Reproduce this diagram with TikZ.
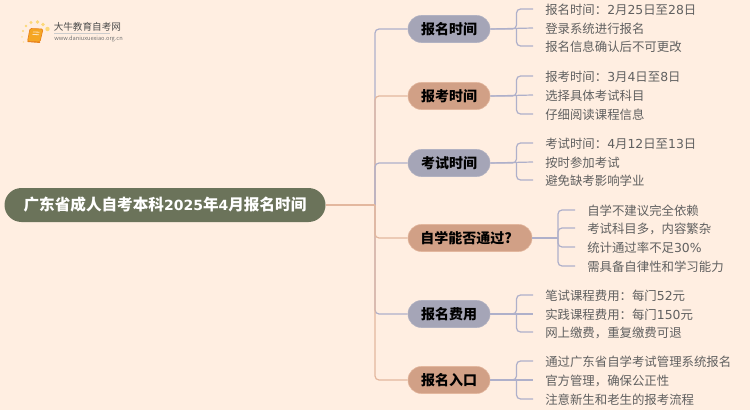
\documentclass[tikz,border=0pt]{standalone}
\usepackage{fontspec}
\setmainfont{Noto Sans CJK SC}
\newfontfamily\digitfont{DejaVu Sans}
\newcommand{\dg}[1]{{\digitfont #1}}
\definecolor{paper}{HTML}{FFEEE1}
\definecolor{rootfill}{HTML}{6B735A}
\definecolor{bluefill}{HTML}{A5A5B7}
\definecolor{orangefill}{HTML}{D1A086}
\definecolor{blueline}{HTML}{AFB0CA}
\definecolor{orangeline}{HTML}{E3B79E}
\definecolor{leaftext}{HTML}{606060}
\definecolor{bookfill}{HTML}{F5A623}
\definecolor{bookedge}{HTML}{E8811A}
\definecolor{dotfill}{HTML}{FCD878}
\tikzset{
  rootnode/.style={rounded corners=12.75pt, fill=rootfill, text=white, font=\fontsize{11.7}{14}\selectfont\bfseries, minimum width=240.75pt, minimum height=25.5pt, inner sep=0pt},
  bluenode/.style={rounded corners=10pt, fill=bluefill, draw=bluefill!85!white, text=black, font=\fontsize{10.5}{13}\selectfont\bfseries, minimum width=61.5pt, minimum height=20.25pt, inner sep=0pt},
  orangenode/.style={bluenode, fill=orangefill, draw=orangeline},
  leaf/.style={anchor=west, text=leaftext, font=\fontsize{9.3}{11}\selectfont, inner xsep=9pt, inner ysep=0pt, text height=8.5pt, text depth=0pt},
  blueedge/.style={draw=blueline, line width=0.9pt, rounded corners=3pt},
  orangeedge/.style={draw=orangeline, line width=0.9pt, rounded corners=3pt}
}
\begin{document}
\begin{tikzpicture}[x=0.75pt, y=-0.75pt]
  \useasboundingbox[fill=paper] (0,0) rectangle (750,410);

  % logo
  \fill[dotfill] (23,31) circle (1.2) (26,26) circle (1.4) (31,22.5) circle (1.7) (37.5,22) circle (1.9) (43,24.5) circle (1.8) (47.5,29) circle (2.2);
  \fill[dotfill!60!paper] (22,37) circle (1) (23.5,42) circle (0.8);
  \fill[bookfill, draw=bookedge, line width=0.5pt, rounded corners=1pt] (30,28.5) -- (43,29) -- (40,42) -- (27.5,41.5) -- cycle;
  \draw[white!70!bookfill, line width=0.6pt] (33,32) -- (39.5,32.2) (32.5,34.5) -- (39,34.7);
  \draw[bookedge, line width=0.7pt] (27.5,41.5) -- (40,42.5);
  \node[text=black!70, font=\fontsize{7.2}{9}\selectfont, anchor=west, inner sep=0pt] (logotitle) at (53.5,27) {大牛教育自考网};
  \draw[black!20, line width=0.3pt] (54,33.5) -- (110,33.5);
  \node[text=black!55, font=\fontsize{4.25}{5}\selectfont, anchor=west, inner sep=0pt] (logourl) at (54,39) {www.daniuxuexiao.org.cn};

  % root and spine
  \node[rootnode] (root) at (165,205) {广东省成人自考本科{\fontsize{10.5}{14}\selectfont\digitfont 2025}年{\fontsize{10.5}{14}\selectfont\digitfont 4}月报名时间};
  \coordinate (spine) at (375,205);

  % branches
  \node[bluenode] (baoming) at (449,29) {报名时间};
  \node[orangenode] (baokao) at (449,96) {报考时间};
  \node[bluenode] (kaoshi) at (449,163) {考试时间};
  \node[orangenode, minimum width=93pt] (tongguo) at (470,238) {自学能否通过?\kern6pt\relax};
  \node[bluenode] (feiyong) at (449,314) {报名费用};
  \node[orangenode] (rukou) at (449,380) {报名入口};

  % leaves
  \node[leaf] (a1) at (533,9) {报名时间：\dg{2}月\dg{25}日至\dg{28}日};
  \node[leaf] (a2) at (533,28) {登录系统进行报名};
  \node[leaf] (a3) at (533,46) {报名信息确认后不可更改};
  \node[leaf] (b1) at (533,76) {报考时间：\dg{3}月\dg{4}日至\dg{8}日};
  \node[leaf] (b2) at (533,95) {选择具体考试科目};
  \node[leaf] (b3) at (533,114) {仔细阅读课程信息};
  \node[leaf] (c1) at (533,143) {考试时间：\dg{4}月\dg{12}日至\dg{13}日};
  \node[leaf] (c2) at (533,162) {按时参加考试};
  \node[leaf] (c3) at (533,180) {避免缺考影响学业};
  \node[leaf] (d1) at (575,210) {自学不建议完全依赖};
  \node[leaf] (d2) at (575,228) {考试科目多，内容繁杂};
  \node[leaf] (d3) at (575,247) {统计通过率不足\dg{30\%}};
  \node[leaf] (d4) at (575,266) {需具备自律性和学习能力};
  \node[leaf] (e1) at (533,295) {笔试课程费用：每门\dg{52}元};
  \node[leaf] (e2) at (533,314) {实践课程费用：每门\dg{150}元};
  \node[leaf] (e3) at (533,332) {网上缴费，重复缴费可退};
  \node[leaf] (f1) at (533,361) {通过广东省自学考试管理系统报名};
  \node[leaf] (f2) at (533,380) {官方管理，确保公正性};
  \node[leaf] (f3) at (533,399) {注意新生和老生的报考流程};

  % root to branches
  \draw[blueedge] (spine) |- (baoming.west);
  \draw[orangeedge] (spine) |- (baokao.west);
  \draw[blueedge] (spine) |- (kaoshi.west);
  \draw[blueedge] (spine) |- (feiyong.west);
  \draw[orangeedge] (spine) |- (tongguo.west);
  \draw[orangeedge] (spine) |- (rukou.west);
  \draw[orangeedge] (root.east) -- (spine);

  % branches to leaves
  \coordinate (ja) at (516.5,29);
  \draw[blueedge] (baoming.east) -- (ja) |- (a1.west);
  \draw[blueedge] (baoming.east) -- (a2.west);
  \draw[blueedge] (ja) |- (a3.west);
  \coordinate (jb) at (516.5,96);
  \draw[blueedge] (baokao.east) -- (jb) |- (b1.west);
  \draw[blueedge] (baokao.east) -- (b2.west);
  \draw[blueedge] (jb) |- (b3.west);
  \coordinate (jc) at (516.5,163);
  \draw[blueedge] (kaoshi.east) -- (jc) |- (c1.west);
  \draw[blueedge] (kaoshi.east) -- (c2.west);
  \draw[blueedge] (jc) |- (c3.west);
  \coordinate (jd) at (558,238);
  \draw[blueedge] (tongguo.east) -- (jd);
  \draw[blueedge] (jd) |- (d1.west);
  \draw[blueedge] (jd) |- (d2.west);
  \draw[blueedge] (jd) |- (d3.west);
  \draw[blueedge] (jd) |- (d4.west);
  \coordinate (je) at (516.5,314);
  \draw[blueedge] (feiyong.east) -- (je) |- (e1.west);
  \draw[blueedge] (feiyong.east) -- (e2.west);
  \draw[blueedge] (je) |- (e3.west);
  \coordinate (jf) at (516.5,380);
  \draw[blueedge] (rukou.east) -- (jf) |- (f1.west);
  \draw[blueedge] (rukou.east) -- (f2.west);
  \draw[blueedge] (jf) |- (f3.west);
\end{tikzpicture}
\end{document}
